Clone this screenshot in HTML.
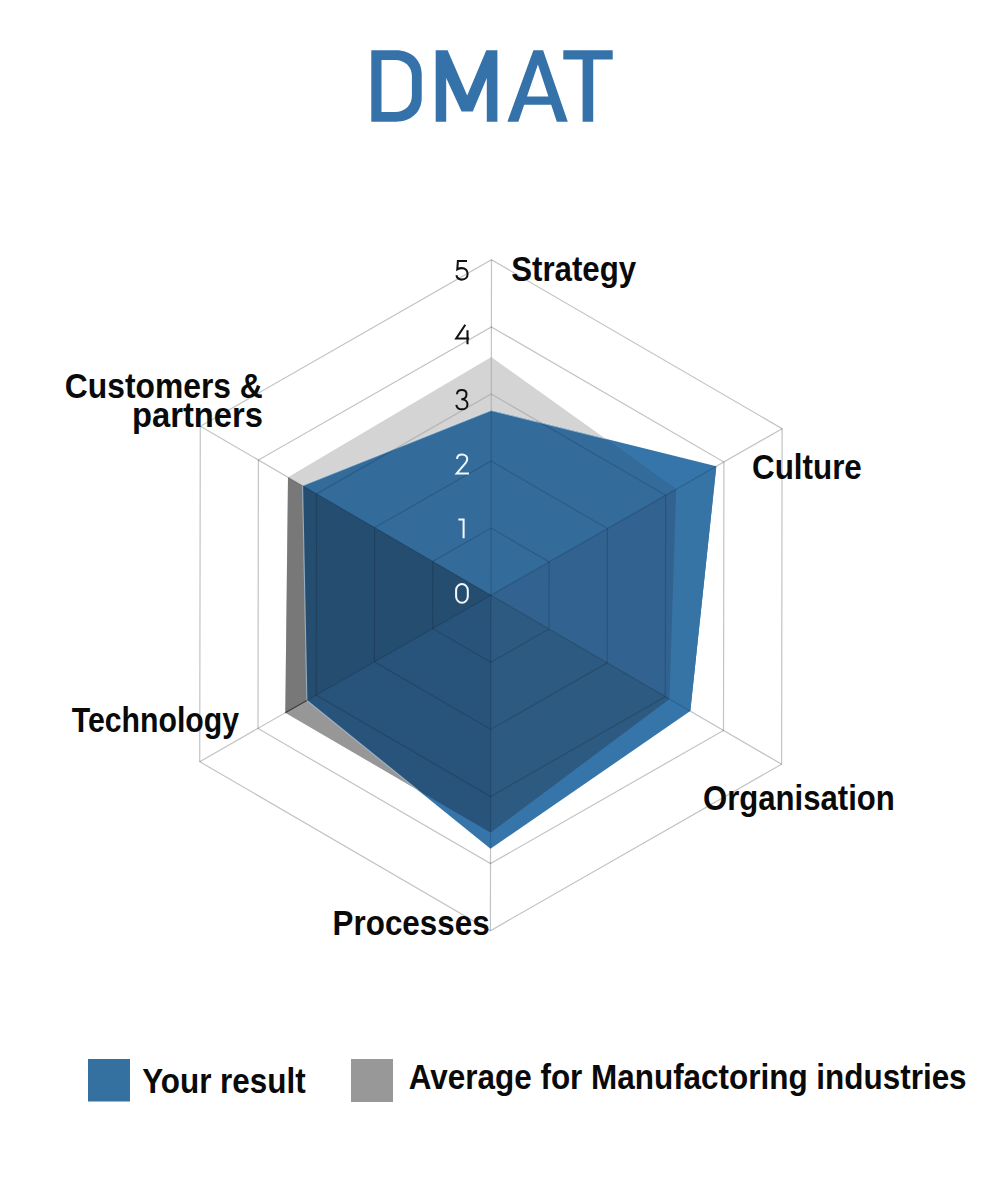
<!DOCTYPE html>
<html><head><meta charset="utf-8"><style>
html,body{margin:0;padding:0;background:#fff;}
body{width:1000px;height:1180px;overflow:hidden;font-family:"Liberation Sans",sans-serif;}
svg{display:block;}
</style></head><body>
<svg width="1000" height="1180" viewBox="0 0 1000 1180">
<defs>
<clipPath id="f_top"><polygon points="490.9,595.2 -671.8,-80.6 -179.1,-569.6 493.1,-746.6 1164.7,-564.0 1655.8,-70.8"/></clipPath>
<clipPath id="f_w3"><polygon points="490.9,595.2 1655.8,-70.8 1834.7,600.9 1653.6,1271.0"/></clipPath>
<clipPath id="f_w4"><polygon points="490.9,595.2 1653.6,1271.0 1161.0,1760.1 488.8,1937.0"/></clipPath>
<clipPath id="f_lefta"><polygon points="490.9,595.2 -673.9,1261.2 -182.8,1754.4 488.8,1937.0"/></clipPath>
<clipPath id="f_leftb"><polygon points="490.9,595.2 -671.8,-80.6 -852.9,589.6 -673.9,1261.2"/></clipPath>
<clipPath id="cg"><polygon points="491.3,357.1 676.1,489.3 669.4,699.0 490.6,832.4 285.3,712.8 288.0,477.3"/></clipPath>
</defs>
<g stroke="rgba(0,0,0,0.10)" stroke-width="1.2"><polygon points="491.0,528.1 549.2,561.9 549.1,629.0 490.8,662.3 432.7,628.5 432.8,561.4" fill="none"/><polygon points="491.1,461.0 607.4,528.6 607.2,662.8 490.7,729.4 374.4,661.8 374.7,527.6" fill="none"/><polygon points="491.2,394.0 665.7,495.3 665.3,696.6 490.6,796.5 316.2,695.1 316.5,493.9" fill="none"/><polygon points="491.4,326.9 723.9,462.0 723.5,730.4 490.5,863.6 258.0,728.4 258.4,460.1" fill="none"/><polygon points="491.5,259.8 782.1,428.7 781.6,764.2 490.4,930.7 199.7,761.7 200.3,426.3" fill="none"/><line x1="490.9" y1="595.2" x2="491.5" y2="259.8"/><line x1="490.9" y1="595.2" x2="782.1" y2="428.7"/><line x1="490.9" y1="595.2" x2="781.6" y2="764.2"/><line x1="490.9" y1="595.2" x2="490.4" y2="930.7"/><line x1="490.9" y1="595.2" x2="199.7" y2="761.7"/><line x1="490.9" y1="595.2" x2="200.3" y2="426.3"/></g>
<polygon points="491.3,357.1 676.1,489.3 669.4,699.0 490.6,832.4 285.3,712.8 288.0,477.3" fill="#d4d4d4"/>
<polygon clip-path="url(#f_lefta)" points="491.3,357.1 676.1,489.3 669.4,699.0 490.6,832.4 285.3,712.8 288.0,477.3" fill="#979797"/>
<polygon clip-path="url(#f_leftb)" points="491.3,357.1 676.1,489.3 669.4,699.0 490.6,832.4 285.3,712.8 288.0,477.3" fill="#787878"/>
<polygon points="491.2,410.4 716.3,466.3 690.3,711.1 490.5,848.8 306.9,700.4 302.6,485.7" fill="#3675a9"/>
<polygon clip-path="url(#f_w3)" points="491.2,410.4 716.3,466.3 690.3,711.1 490.5,848.8 306.9,700.4 302.6,485.7" fill="#3674a6"/>
<g clip-path="url(#cg)">
<polygon points="491.2,410.4 716.3,466.3 690.3,711.1 490.5,848.8 306.9,700.4 302.6,485.7" fill="#32628f"/>
<polygon clip-path="url(#f_top)" points="491.2,410.4 716.3,466.3 690.3,711.1 490.5,848.8 306.9,700.4 302.6,485.7" fill="#336b9b"/>
<polygon clip-path="url(#f_w4)" points="491.2,410.4 716.3,466.3 690.3,711.1 490.5,848.8 306.9,700.4 302.6,485.7" fill="#2d5a80"/>
<polygon clip-path="url(#f_lefta)" points="491.2,410.4 716.3,466.3 690.3,711.1 490.5,848.8 306.9,700.4 302.6,485.7" fill="#28537a"/>
<polygon clip-path="url(#f_leftb)" points="491.2,410.4 716.3,466.3 690.3,711.1 490.5,848.8 306.9,700.4 302.6,485.7" fill="#254d70"/>
<polygon points="491.2,410.4 716.3,466.3 690.3,711.1 490.5,848.8 306.9,700.4 302.6,485.7" fill="none" stroke="rgba(225,238,248,0.55)" stroke-width="1.1"/>
</g>
<line x1="306.9" y1="700.4" x2="285.3" y2="712.8" stroke="#4a4a4a" stroke-width="1.2"/>
<g stroke="rgba(0,0,0,0.15)" stroke-width="1.2"><polygon points="491.0,528.1 549.2,561.9 549.1,629.0 490.8,662.3 432.7,628.5 432.8,561.4" fill="none"/><polygon points="491.1,461.0 607.4,528.6 607.2,662.8 490.7,729.4 374.4,661.8 374.7,527.6" fill="none"/><polygon points="491.2,394.0 665.7,495.3 665.3,696.6 490.6,796.5 316.2,695.1 316.5,493.9" fill="none"/><polygon points="491.4,326.9 723.9,462.0 723.5,730.4 490.5,863.6 258.0,728.4 258.4,460.1" fill="none"/><polygon points="491.5,259.8 782.1,428.7 781.6,764.2 490.4,930.7 199.7,761.7 200.3,426.3" fill="none"/><line x1="490.9" y1="595.2" x2="491.5" y2="259.8"/><line x1="490.9" y1="595.2" x2="782.1" y2="428.7"/><line x1="490.9" y1="595.2" x2="781.6" y2="764.2"/><line x1="490.9" y1="595.2" x2="490.4" y2="930.7"/><line x1="490.9" y1="595.2" x2="199.7" y2="761.7"/><line x1="490.9" y1="595.2" x2="200.3" y2="426.3"/></g>
<g fill="#3572a9"><path fill-rule="evenodd" d="M371.3,50.3 H396 C411,50.3 421.7,60 421.7,74 V98 C421.7,112 411,121.7 396,121.7 H371.3 Z M381.5,60.1 V112 H395 C405,112 411.9,105 411.9,96 V76 C411.9,67 405,60.1 395,60.1 Z"/><path d="M435.7,121.7 V50.3 H447.6 L467.2,95.4 L486.3,50.3 H497.4 V121.7 H486.8 V77.9 L472.8,111.5 H461.6 L446.2,77.9 V121.7 Z"/><path fill-rule="evenodd" d="M507.4,121.7 L533.4,50.2 H543.1 L567.8,121.7 H556.8 L551.2,104.8 H524.2 L518.4,121.7 Z M527,96.4 L537.9,64.5 L548.4,96.4 Z"/><path d="M563.3,50.3 H612.7 V59.5 H593.2 V121.7 H582.6 V59.5 H563.3 Z"/></g>
<text x="511.2" y="281.0" font-size="34.5" textLength="125.0" lengthAdjust="spacingAndGlyphs" font-family="Liberation Sans" font-weight="bold" fill="#0a0a0a" >Strategy</text>
<text x="64.8" y="398.0" font-size="34.5" textLength="198.0" lengthAdjust="spacingAndGlyphs" font-family="Liberation Sans" font-weight="bold" fill="#0a0a0a" >Customers &amp;</text>
<text x="132.0" y="426.5" font-size="34.5" textLength="131.0" lengthAdjust="spacingAndGlyphs" font-family="Liberation Sans" font-weight="bold" fill="#0a0a0a" >partners</text>
<text x="752.0" y="478.5" font-size="34.5" textLength="109.8" lengthAdjust="spacingAndGlyphs" font-family="Liberation Sans" font-weight="bold" fill="#0a0a0a" >Culture</text>
<text x="703.0" y="809.6" font-size="34.5" textLength="191.8" lengthAdjust="spacingAndGlyphs" font-family="Liberation Sans" font-weight="bold" fill="#0a0a0a" >Organisation</text>
<text x="332.6" y="935.0" font-size="34.5" textLength="157.0" lengthAdjust="spacingAndGlyphs" font-family="Liberation Sans" font-weight="bold" fill="#0a0a0a" >Processes</text>
<text x="71.8" y="732.0" font-size="34.5" textLength="167.2" lengthAdjust="spacingAndGlyphs" font-family="Liberation Sans" font-weight="bold" fill="#0a0a0a" >Technology</text>
<text x="142.2" y="1093.0" font-size="34.5" textLength="163.4" lengthAdjust="spacingAndGlyphs" font-family="Liberation Sans" font-weight="bold" fill="#0a0a0a" >Your result</text>
<text x="408.8" y="1089.2" font-size="34.5" textLength="557.8" lengthAdjust="spacingAndGlyphs" font-family="Liberation Sans" font-weight="bold" fill="#0a0a0a" >Average for Manufactoring industries</text>
<g fill="none" stroke="#111" stroke-width="2.05" stroke-linecap="butt" stroke-linejoin="miter">
<path d="M467,260.9 H457.9 L457.3,269.3 C458.8,268.4 460.3,268.1 461.8,268.1 C465.3,268.1 467.6,270.7 467.6,274 C467.6,277.4 465.2,279.6 461.8,279.6 C459.1,279.6 457,278.2 456.4,275.3"/>
<path d="M465.3,324.8 L456.2,338.4 H469.1 M467.5,330.2 V344.3"/>
<path d="M457,394.2 C457.1,391.6 459.1,390 461.8,390 C464.6,390 466.5,391.8 466.5,394.3 C466.5,397.3 464.3,399.3 461.3,399.3 M461.3,399.3 C465,399.3 467.5,401.3 467.5,404.4 C467.5,407.4 465,409.3 461.8,409.3 C458.8,409.3 456.7,407.5 456.3,404.8"/>
</g>
<g fill="none" stroke="#f2f7fb" stroke-width="2.05" stroke-linecap="butt" stroke-linejoin="miter">
<path d="M457,458.8 C457.2,456.1 459.3,454.5 462.1,454.5 C465,454.5 467.2,456.4 467.2,459.1 C467.2,460.7 466.6,461.8 465.7,462.9 L456.7,473.4 H469"/>
<path d="M458.4,519.4 H463.6 V538.3"/>
<rect x="456.1" y="584" width="11.7" height="18.7" rx="5.85" ry="6.3"/>
</g>
<rect x="88" y="1059" width="42" height="42.5" fill="#3470a0"/>
<rect x="351" y="1059" width="42" height="43" fill="#989898"/>
</svg>
</body></html>
